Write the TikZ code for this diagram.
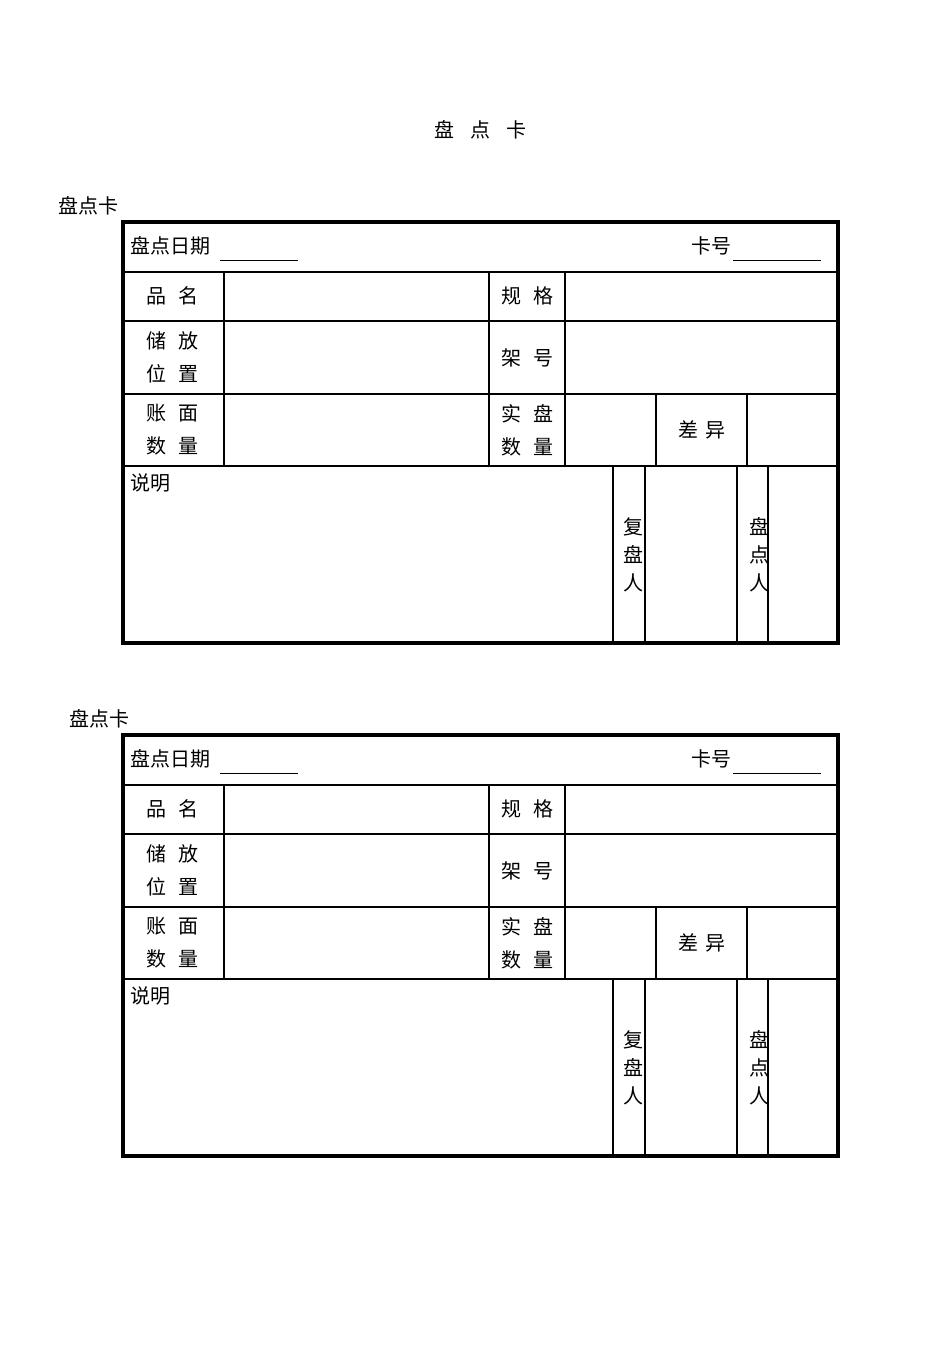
\documentclass[tikz,border=0pt]{standalone}
\usepackage{fontspec}
\setmainfont{Noto Sans CJK SC}
\begin{document}
\begin{tikzpicture}[x=1pt,y=-1pt,
  thin line/.style={line width=1.2pt},
  thick line/.style={line width=3.2pt},
  lab/.style={font=\fontsize{20}{25}\selectfont, inner sep=0pt}]
\useasboundingbox (0,0) rectangle (950,1345);
\node[lab] (title) at (480,130) {盘\hspace{0.8em}点\hspace{0.8em}卡};
\newcommand\mycard[3]{%
\begin{scope}[shift={(0,#1)}]
\node[lab] (cap#3) at (#2,206) {盘点卡};
\draw[thin line] (123,272) -- (838,272);
\draw[thin line] (123,321) -- (838,321);
\draw[thin line] (123,394) -- (838,394);
\draw[thin line] (123,466) -- (838,466);
\draw[thin line] (224,272) -- (224,466);
\draw[thin line] (489,272) -- (489,466);
\draw[thin line] (565,272) -- (565,466);
\draw[thin line] (656,394) -- (656,466);
\draw[thin line] (747,394) -- (747,466);
\draw[thin line] (613,466) -- (613,643);
\draw[thin line] (645,466) -- (645,643);
\draw[thin line] (737,466) -- (737,643);
\draw[thin line] (768,466) -- (768,643);
\draw[thick line] (123,222) rectangle (838,643);
\node[lab,anchor=west] (date#3) at (130,246) {盘点日期};
\draw[line width=1pt] (220,260) -- (298,260);
\node[lab,anchor=west] (no#3) at (691,246) {卡号};
\draw[line width=1pt] (733,260) -- (821,260);
\node[lab] (pm#3) at (172,296) {品\hspace{0.6em}名};
\node[lab] (gg#3) at (527,296) {规\hspace{0.6em}格};
\node[lab,align=center] (cf#3) at (172,357) {储\hspace{0.6em}放\\[8pt]位\hspace{0.6em}置};
\node[lab] (jh#3) at (527,358) {架\hspace{0.6em}号};
\node[lab,align=center] (zm#3) at (172,430) {账\hspace{0.6em}面\\[8pt]数\hspace{0.6em}量};
\node[lab,align=center] (sp#3) at (527,430) {实\hspace{0.6em}盘\\[8pt]数\hspace{0.6em}量};
\node[lab] (cy#3) at (702,430) {差\hspace{0.4em}异};
\node[lab,anchor=west] (sm#3) at (130,483) {说明};
\node[lab,align=center] (fp#3) at (633,555) {复\\[3pt]盘\\[3pt]人};
\node[lab,align=center] (pd#3) at (759,555) {盘\\[3pt]点\\[3pt]人};
\end{scope}}
\mycard{0}{88}{a}
\mycard{513}{99}{b}
\end{tikzpicture}
\end{document}
